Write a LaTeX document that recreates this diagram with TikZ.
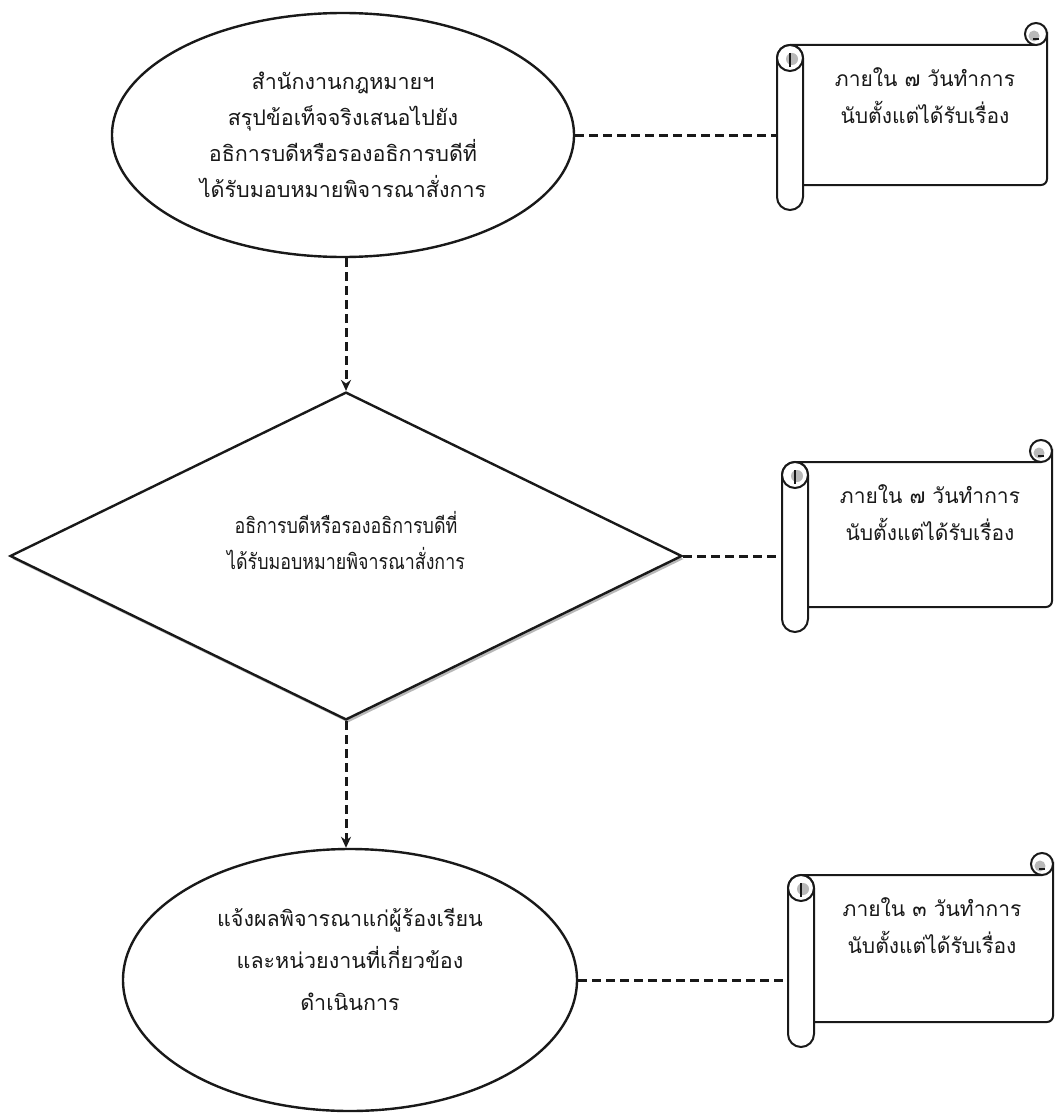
\documentclass[tikz,border=0pt]{standalone}
\usepackage{fontspec}
\newfontfamily\thaifont[Script=Thai]{Loma}
\newfontfamily\thaicond[Script=Thai,FakeStretch=0.83]{Loma}
\usetikzlibrary{shapes.geometric,arrows.meta,shadows}
\tikzset{
  outline/.style={draw=black!90, line width=2.4pt},
  proc/.style={outline, ellipse, inner sep=0pt, fill=white, align=center,
    text=black!90, font=\thaifont\fontsize{21.5}{36}\selectfont},
  decide/.style={outline, diamond, inner sep=0pt, fill=white, align=center,
    text=black!90, font=\thaicond\fontsize{21.5}{36}\selectfont,
    drop shadow={shadow xshift=2pt, shadow yshift=-3pt, fill=gray!65, opacity=0.85}},
  dline/.style={draw=black!90, line width=3pt, dash pattern=on 9pt off 5pt},
  arrowline/.style={dline, -{Stealth[length=11pt,width=10pt]}},
  scrollline/.style={draw=black!90, line width=2pt},
  curlfill/.style={fill=gray!55},
  scrolltext/.style={align=center, text=black!90, inner sep=0pt,
    font=\thaifont\fontsize{21}{37}\selectfont}
}
% scroll: #1 = left x, #2 = right x, #3 = top y, #4 = bottom y
\newcommand{\drawmyscroll}[4]{%
  % body
  \draw[scrollline, fill=white] ({#1+13},{#3}) -- ({#2-11},{#3})
     -- ({#2},{#3-11}) [rounded corners=6pt] -- ({#2},{#4}) -- ({#1+20},{#4}) [sharp corners] -- ({#1+20},{#3}) -- cycle;
  \draw[scrollline] ({#1+13},{#3}) -- ({#2-11},{#3});
  % top right curl
  \draw[scrollline, fill=white] ({#2-11},{#3-11}) circle (11pt);
  \fill[curlfill] ({#2-13},{#3-9}) circle (5.5pt);
  \draw[scrollline, line width=1.2pt] ({#2-8},{#3-6}) -- ({#2-14},{#3-6});
  % left roll
  \draw[scrollline, fill=white, rounded corners=13pt] ({#1},{#3}) rectangle ({#1+26},{#4+25});
  \draw[scrollline, fill=white] ({#1+13},{#3+13}) circle (13pt);
  \fill[curlfill] ({#1+15},{#3+14}) circle (6pt);
  \draw[scrollline, line width=1.2pt] ({#1+13},{#3+8}) -- ({#1+13},{#3+22});
}
\begin{document}
\begin{tikzpicture}[x=1pt,y=-1pt]
\fill[white] (0,0) rectangle (1058,1116);
\useasboundingbox (0,0) rectangle (1058,1116);

% main flow
\node[proc, minimum width=462pt, minimum height=244pt] (E1) at (343,135)
  {สำนักงานกฎหมายฯ\\สรุปข้อเท็จจริงเสนอไปยัง\\อธิการบดีหรือรองอธิการบดีที่\\ได้รับมอบหมายพิจารณาสั่งการ};
\node[decide, minimum width=672pt, minimum height=302pt] (D) at (346,556)
  {อธิการบดีหรือรองอธิการบดีที่\\ได้รับมอบหมายพิจารณาสั่งการ\\[-4pt]\mbox{}};
\node[proc, minimum width=454pt, minimum height=262pt, font=\thaifont\fontsize{21.5}{42}\selectfont] (E2) at (350,980)
  {แจ้งผลพิจารณาแก่ผู้ร้องเรียน\\และหน่วยงานที่เกี่ยวข้อง\\ดำเนินการ\\\mbox{}};

% scrolls
\drawmyscroll{777}{1047}{45}{185}
\coordinate (R1) at (777,135);
\node[scrolltext] (S1) at (925,96) {ภายใน ๗ วันทำการ\\นับตั้งแต่ได้รับเรื่อง};

\drawmyscroll{782}{1052}{462}{607}
\coordinate (R2) at (782,556);
\node[scrolltext] (S2) at (930,513) {ภายใน ๗ วันทำการ\\นับตั้งแต่ได้รับเรื่อง};

\drawmyscroll{788}{1053}{875}{1022}
\coordinate (R3) at (788,975);
\node[scrolltext] (S3) at (932,926) {ภายใน ๓ วันทำการ\\นับตั้งแต่ได้รับเรื่อง};

% connectors
\draw[arrowline] (E1.south -| D.north) -- (D.north);
\draw[arrowline] (D.south) -- (D.south |- E2.north);
\draw[dline] (E1.east) -- (E1.east -| R1);
\draw[dline] (D.east) -- (D.east -| R2);
\draw[dline] (E2.east) -- (E2.east -| R3);
\end{tikzpicture}
\end{document}
